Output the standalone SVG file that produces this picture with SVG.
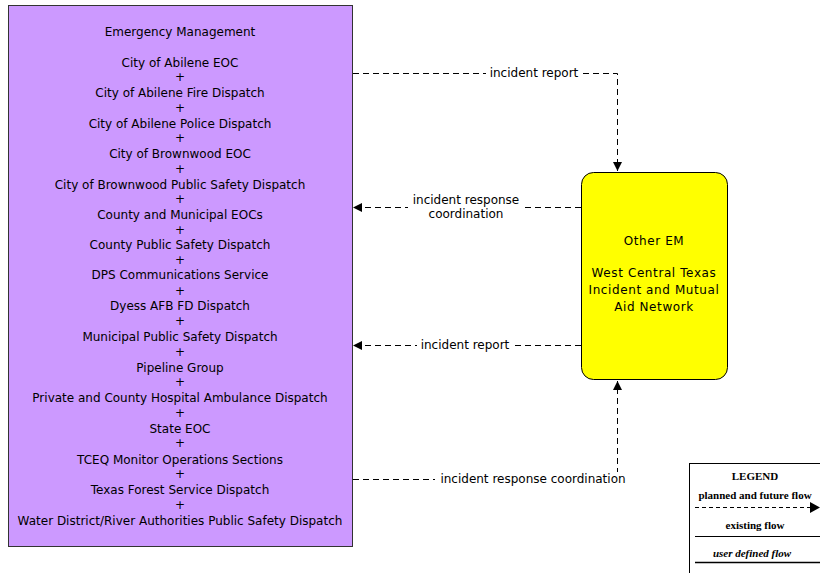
<svg xmlns="http://www.w3.org/2000/svg" width="820" height="573" viewBox="0 0 820 573">
<defs>
<style>
.t{font-family:"DejaVu Sans","Liberation Sans",sans-serif;font-size:12px;fill:#000;text-anchor:middle}
.y{font-family:"DejaVu Sans","Liberation Sans",sans-serif;font-size:12px;fill:#000;text-anchor:middle;letter-spacing:0.6px}
.lbl{font-family:"DejaVu Sans","Liberation Sans",sans-serif;font-size:12px;fill:#000;text-anchor:middle}
.flow{fill:none;stroke:#000;stroke-width:1;stroke-dasharray:6,4}
.lg{font-family:"Liberation Serif","Times New Roman",serif;font-size:11px;font-weight:bold;fill:#000;text-anchor:middle}
</style>
<marker id="ah" viewBox="0 0 10 10" refX="10" refY="5" markerWidth="9" markerHeight="9" markerUnits="userSpaceOnUse" orient="auto">
<path d="M0,0 L10,5 L0,10 Z" fill="#000"/>
</marker>
</defs>
<rect width="820" height="573" fill="#fff"/>
<g id="em">
<rect x="8.5" y="5.5" width="344" height="541" fill="#CC99FF" stroke="#333" stroke-width="1"/>
<text class="t" x="180" y="36">Emergency Management</text>
<text class="t" x="180" y="67">City of Abilene EOC</text>
<text class="t" x="180" y="81">+</text>
<text class="t" x="180" y="97">City of Abilene Fire Dispatch</text>
<text class="t" x="180" y="112">+</text>
<text class="t" x="180" y="128">City of Abilene Police Dispatch</text>
<text class="t" x="180" y="142">+</text>
<text class="t" x="180" y="158">City of Brownwood EOC</text>
<text class="t" x="180" y="173">+</text>
<text class="t" x="180" y="189">City of Brownwood Public Safety Dispatch</text>
<text class="t" x="180" y="203">+</text>
<text class="t" x="180" y="219">County and Municipal EOCs</text>
<text class="t" x="180" y="234">+</text>
<text class="t" x="180" y="249">County Public Safety Dispatch</text>
<text class="t" x="180" y="264">+</text>
<text class="t" x="180" y="279">DPS Communications Service</text>
<text class="t" x="180" y="295">+</text>
<text class="t" x="180" y="310">Dyess AFB FD Dispatch</text>
<text class="t" x="180" y="325">+</text>
<text class="t" x="180" y="341">Municipal Public Safety Dispatch</text>
<text class="t" x="180" y="356">+</text>
<text class="t" x="180" y="372">Pipeline Group</text>
<text class="t" x="180" y="386">+</text>
<text class="t" x="180" y="402">Private and County Hospital Ambulance Dispatch</text>
<text class="t" x="180" y="417">+</text>
<text class="t" x="180" y="433">State EOC</text>
<text class="t" x="180" y="447">+</text>
<text class="t" x="180" y="464">TCEQ Monitor Operations Sections</text>
<text class="t" x="180" y="478">+</text>
<text class="t" x="180" y="494">Texas Forest Service Dispatch</text>
<text class="t" x="180" y="509">+</text>
<text class="t" x="180" y="525">Water District/River Authorities Public Safety Dispatch</text>
</g>
<g id="other">
<rect x="581.5" y="172.5" width="146" height="207" rx="12" ry="12" fill="#FFFF00" stroke="#000" stroke-width="1"/>
<text class="y" x="654" y="245">Other EM</text>
<text class="y" x="654" y="277">West Central Texas</text>
<text class="y" x="654" y="294">Incident and Mutual</text>
<text class="y" x="654" y="311">Aid Network</text>
</g>
<g id="connectors">
<path class="flow" d="M353,73.5 H617.5 V171" marker-end="url(#ah)"/>
<rect x="486" y="66" width="96" height="14" fill="#fff"/>
<text class="lbl" x="534" y="77">incident report</text>
<path class="flow" d="M581,207.5 H353" marker-end="url(#ah)"/>
<rect x="408" y="193" width="116" height="26" fill="#fff"/>
<text class="lbl" x="466" y="204">incident response</text>
<text class="lbl" x="466" y="218">coordination</text>
<path class="flow" d="M581,345.5 H353" marker-end="url(#ah)"/>
<rect x="417" y="338" width="96" height="14" fill="#fff"/>
<text class="lbl" x="465" y="349">incident report</text>
<path class="flow" d="M353,479.5 H617.5 V381" marker-end="url(#ah)"/>
<rect x="435" y="472" width="196" height="14" fill="#fff"/>
<text class="lbl" x="533" y="483">incident response coordination</text>
</g>
<g id="legend">
<rect x="689.5" y="463.5" width="140" height="120" fill="#fff" stroke="#000" stroke-width="1"/>
<text class="lg" x="755" y="480">LEGEND</text>
<text class="lg" x="755" y="499">planned and future flow</text>
<path d="M695,507.5 H812" fill="none" stroke="#000" stroke-width="1" stroke-dasharray="4,3"/>
<path d="M810,502 L820,507.5 L810,513 Z" fill="#000"/>
<text class="lg" x="755" y="529">existing flow</text>
<path d="M695,536.5 H820" fill="none" stroke="#000" stroke-width="1"/>
<text class="lg" x="752" y="557" font-style="italic">user defined flow</text>
<path d="M695,562.5 H820" fill="none" stroke="#000" stroke-width="1.5"/>
</g>
</svg>
